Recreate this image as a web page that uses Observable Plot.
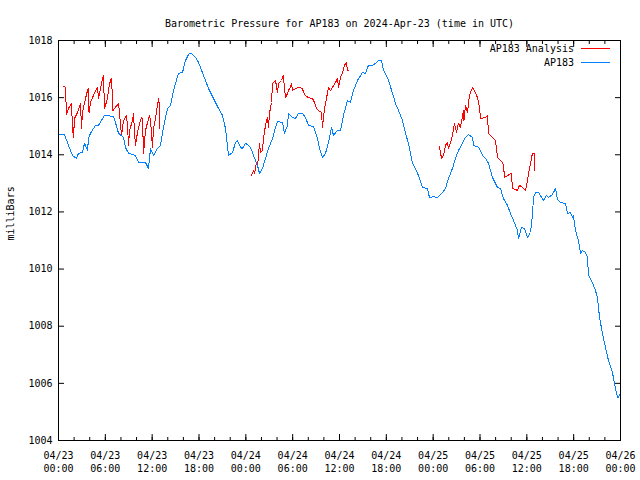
<!DOCTYPE html>
<html>
<head>
<meta charset="utf-8">
<script src="https://cdn.jsdelivr.net/npm/d3@7"></script>
<script src="https://cdn.jsdelivr.net/npm/@observablehq/plot@0.6"></script>
<style>
  html, body { margin: 0; padding: 0; background: white; }
</style>
</head>
<body>
<div id="chart"></div>
<script>
// ---- Data (hours since 2024-04-23 00:00 UTC, pressure in mb) ----
const titleText = "Barometric Pressure for AP183 on 2024-Apr-23 (time in UTC)";
const yLabel = "milliBars";
const seriesNames = ["AP183 Analysis", "AP183"];
const seriesColors = ["#ff0000", "#0080ff"];
const yTickValues = [1004, 1006, 1008, 1010, 1012, 1014, 1016, 1018];

const ap183 = [
  [0.0,1014.71],[0.77,1014.71],[1.28,1014.33],[1.79,1013.98],[2.31,1013.87],[2.56,1014.05],
  [3.07,1014.08],[3.33,1014.40],[3.72,1014.15],[3.84,1014.57],[4.10,1014.75],[4.74,1015.03],
  [5.12,1015.03],[5.89,1015.38],[7.05,1015.34],[7.30,1015.13],[7.69,1014.75],[8.33,1014.61],
  [8.58,1014.26],[8.97,1014.05],[9.86,1013.98],[10.25,1013.73],[11.15,1013.73],[11.53,1013.52],
  [11.79,1014.22],[12.17,1013.98],[12.68,1014.22],[13.07,1014.33],[13.45,1014.96],[13.96,1015.62],
  [14.35,1015.73],[14.73,1016.25],[15.37,1016.85],[15.89,1016.88],[16.27,1017.30],[16.65,1017.51],
  [16.91,1017.55],[17.17,1017.51],[17.55,1017.41],[17.94,1017.23],[18.58,1016.78],[19.22,1016.32],
  [19.86,1015.97],[20.50,1015.62],[21.01,1015.38],[21.39,1014.92],[21.78,1013.98],[22.29,1014.08],
  [22.68,1014.43],[22.93,1014.50],[23.32,1014.26],[23.57,1014.22],[23.96,1014.40],[24.34,1014.33],
  [24.60,1014.26],[24.98,1013.98],[25.49,1013.63],[25.75,1013.35],[26.13,1013.52],[26.52,1013.87],
  [26.90,1014.22],[27.42,1014.57],[27.80,1014.96],[28.06,1015.17],[28.70,1015.13],[28.95,1014.75],
  [29.34,1015.03],[29.46,1015.45],[29.98,1015.31],[30.36,1015.27],[30.75,1015.45],[31.26,1015.45],
  [31.64,1015.31],[32.03,1015.03],[32.67,1014.99],[33.18,1014.57],[33.44,1014.22],[33.82,1013.91],
  [34.21,1014.05],[34.59,1014.43],[34.97,1014.96],[35.23,1014.68],[35.74,1014.85],[36.13,1014.85],
  [36.51,1015.38],[37.02,1015.90],[37.41,1015.83],[37.79,1016.25],[38.30,1016.60],[38.94,1016.88],
  [39.33,1016.85],[39.71,1017.13],[40.23,1017.13],[40.61,1017.20],[40.99,1017.30],[41.38,1017.30],
  [41.63,1016.95],[41.89,1016.85],[42.28,1016.60],[42.79,1016.15],[43.17,1015.80],[43.56,1015.55],
  [44.07,1015.20],[44.45,1014.75],[44.84,1014.40],[45.35,1013.70],[45.73,1013.52],[46.12,1013.27],
  [46.63,1012.85],[47.27,1012.82],[47.53,1012.50],[48.04,1012.54],[48.55,1012.50],[49.19,1012.68],
  [49.58,1012.82],[49.96,1013.17],[50.47,1013.52],[50.86,1013.87],[51.24,1014.15],[51.76,1014.40],
  [52.14,1014.61],[52.52,1014.71],[53.04,1014.61],[53.17,1014.33],[53.81,1014.26],[54.32,1013.98],
  [54.70,1013.87],[55.09,1013.70],[55.60,1013.21],[56.24,1012.86],[56.62,1012.82],[57.01,1012.47],
  [57.52,1012.23],[57.90,1011.95],[58.29,1011.70],[58.80,1011.35],[58.93,1011.07],[59.31,1011.46],
  [59.70,1011.42],[60.08,1011.11],[60.47,1011.28],[60.72,1011.88],[60.85,1012.50],[61.11,1012.68],
  [61.49,1012.68],[62.13,1012.40],[62.52,1012.58],[62.77,1012.50],[63.28,1012.61],[63.67,1012.82],
  [63.92,1012.44],[64.31,1012.33],[64.95,1012.30],[65.21,1011.95],[65.59,1011.98],[65.85,1011.81],
  [65.97,1011.88],[66.23,1011.35],[66.62,1011.00],[66.87,1010.55],[67.13,1010.65],[67.51,1010.58],
  [67.77,1010.41],[67.90,1009.78],[68.41,1009.53],[68.79,1009.25],[69.05,1009.01],[69.31,1008.31],
  [69.69,1007.75],[70.07,1007.26],[70.46,1006.80],[70.97,1006.38],[71.23,1006.00],[71.61,1005.51],
  [71.74,1005.51],[72.0,1005.65]
];

const analysisDay1 = [
  [0.64,1016.39],[0.90,1016.36],[1.02,1015.41],[1.28,1015.62],[1.67,1015.80],[1.79,1014.92],
  [1.92,1014.61],[2.05,1015.27],[2.43,1015.48],[2.82,1015.80],[2.95,1014.92],[3.07,1015.48],
  [3.46,1015.97],[3.72,1016.25],[3.84,1016.32],[3.91,1015.48],[4.10,1015.83],[4.48,1016.08],
  [4.74,1016.25],[5.00,1016.36],[5.12,1015.97],[5.38,1016.32],[5.64,1016.67],[5.76,1016.78],
  [5.89,1015.62],[6.28,1015.97],[6.41,1016.32],[6.66,1016.60],[6.79,1016.67],[6.92,1015.97],
  [6.98,1015.55],[7.30,1015.66],[7.69,1015.80],[7.94,1015.10],[8.07,1014.68],[8.33,1015.20],
  [8.71,1015.38],[8.84,1015.03],[8.97,1014.33],[9.10,1014.85],[9.48,1015.20],[9.61,1015.45],
  [9.74,1014.78],[9.86,1014.33],[10.12,1014.78],[10.38,1015.10],[10.63,1015.31],[10.76,1015.27],
  [10.89,1014.05],[11.15,1014.85],[11.40,1015.13],[11.66,1015.38],[11.79,1015.20],[12.04,1014.26],
  [12.17,1014.92],[12.43,1015.27],[12.68,1015.73],[12.81,1015.97],[12.87,1015.90],[12.94,1015.27],
  [13.0,1014.90]
];

const analysisDay2 = [
  [24.72,1013.28],[24.98,1013.45],[25.11,1013.35],[25.37,1013.73],[25.49,1013.56],[25.62,1013.98],
  [25.75,1014.40],[25.88,1014.08],[26.13,1014.15],[26.26,1014.57],[26.52,1015.03],[26.77,1015.31],
  [26.90,1014.96],[27.03,1015.45],[27.29,1015.83],[27.42,1016.50],[27.80,1016.60],[28.06,1016.18],
  [28.18,1016.50],[28.57,1016.60],[28.82,1016.78],[28.95,1016.32],[29.08,1016.00],[29.34,1016.15],
  [29.46,1016.25],[29.72,1016.36],[29.85,1016.50],[29.98,1016.25],[30.36,1016.32],[30.75,1016.36],
  [31.26,1016.32],[31.39,1016.18],[31.64,1016.08],[32.03,1016.00],[32.54,1015.97],[32.80,1015.83],
  [33.05,1015.62],[33.31,1015.55],[33.69,1015.48],[33.82,1014.96],[34.08,1015.62],[34.33,1015.97],
  [34.59,1016.36],[34.85,1016.25],[35.10,1016.36],[35.49,1016.53],[35.74,1016.67],[35.87,1016.36],
  [36.13,1016.71],[36.38,1016.85],[36.64,1017.13],[36.89,1017.23],[37.02,1016.95],[37.15,1016.95]
];

const analysisDay3 = [
  [48.81,1014.29],[49.07,1013.87],[49.32,1013.98],[49.58,1014.33],[49.83,1014.43],[49.96,1014.22],
  [50.22,1014.43],[50.47,1014.68],[50.73,1015.10],[50.99,1014.78],[51.24,1015.10],[51.50,1014.96],
  [51.88,1015.55],[51.95,1015.20],[52.14,1015.73],[52.40,1015.48],[52.65,1016.08],[53.04,1016.36],
  [53.17,1016.32],[53.68,1016.00],[53.94,1015.66],[54.06,1015.27],[54.70,1015.31],[54.96,1015.38],
  [55.09,1014.75],[55.60,1014.61],[55.98,1014.50],[56.24,1013.91],[56.62,1013.80],[56.88,1013.73],
  [57.01,1013.63],[57.14,1013.21],[57.52,1013.27],[58.03,1013.35],[58.16,1012.82],[58.55,1012.79],
  [58.80,1012.75],[59.06,1012.93],[59.44,1012.86],[59.83,1012.75],[60.08,1013.10],[60.34,1013.52],
  [60.72,1014.05],[60.98,1014.05],[61.04,1013.45]
];

// ---- Build chart ----
const t0 = Date.UTC(2024, 3, 23);
const toDate = h => new Date(t0 + h * 3600000);
const xStart = toDate(0), xEnd = toDate(72);
const majorTicks = d3.utcHour.every(6).range(xStart, new Date(+xEnd + 1));
const minorTicks = d3.utcHour.every(2).range(xStart, new Date(+xEnd + 1));
const fmtX = d3.utcFormat("%m/%d\n%H:%M");
const blank = () => "";

const lineOpts = (color) => ({
  x: d => toDate(d[0]), y: d => d[1], stroke: color, strokeWidth: 1, shapeRendering: "crispEdges"
});

function legend(index, scales, values, dims) {
  const g = d3.create("svg:g");
  const xr = dims.width - dims.marginRight;
  seriesNames.forEach((name, i) => {
    const y = dims.marginTop + 8.5 + i * 14;
    g.append("text").attr("x", xr - 46).attr("y", y).attr("dy", "0.32em")
      .attr("text-anchor", "end").attr("fill", "black").text(name);
    g.append("line").attr("x1", xr - 39).attr("x2", xr - 10).attr("y1", y).attr("y2", y)
      .attr("stroke", seriesColors[i]).attr("stroke-width", 1).attr("shape-rendering", "crispEdges");
  });
  return g.node();
}

const chart = Plot.plot({
  width: 640,
  height: 480,
  marginLeft: 58,
  marginRight: 20,
  marginTop: 40,
  marginBottom: 40,
  style: {fontFamily: "'DejaVu Sans Mono', monospace", fontSize: "10px", color: "black", background: "white"},
  x: {type: "utc", domain: [xStart, xEnd]},
  y: {domain: [1004, 1018]},
  marks: [
    // minor & major inward ticks, bottom and top
    Plot.axisX({anchor: "bottom", ticks: minorTicks, tickSize: -3, tickFormat: blank, label: null}),
    Plot.axisX({anchor: "top", ticks: minorTicks, tickSize: -3, tickFormat: blank, label: null}),
    Plot.axisX({anchor: "bottom", ticks: majorTicks, tickSize: -6, tickFormat: blank, label: null}),
    Plot.axisX({anchor: "top", ticks: majorTicks, tickSize: -6, tickFormat: blank, label: null}),
    Plot.axisX({anchor: "bottom", ticks: majorTicks, tickSize: 0, tickPadding: 9, lineHeight: 1.3, tickFormat: fmtX, label: null}),
    // y ticks
    Plot.axisY({anchor: "left", ticks: yTickValues, tickSize: -6, tickFormat: blank, label: null}),
    Plot.axisY({anchor: "right", ticks: yTickValues, tickSize: -6, tickFormat: blank, label: null}),
    Plot.axisY({anchor: "left", ticks: yTickValues, tickSize: 0, tickPadding: 6, tickFormat: d3.format("d"), label: null}),
    // series
    Plot.line(analysisDay1, lineOpts(seriesColors[0])),
    Plot.line(analysisDay2, lineOpts(seriesColors[0])),
    Plot.line(analysisDay3, lineOpts(seriesColors[0])),
    Plot.line(ap183, lineOpts(seriesColors[1])),
    Plot.frame({stroke: "black", strokeWidth: 1}),
    // title & y label
    Plot.text([titleText], {frameAnchor: "top", dy: -21, fill: "black"}),
    Plot.text([yLabel], {frameAnchor: "left", rotate: -90, dx: -48, fill: "black"}),
    legend
  ]
});

document.getElementById("chart").appendChild(chart);
</script>
</body>
</html>
